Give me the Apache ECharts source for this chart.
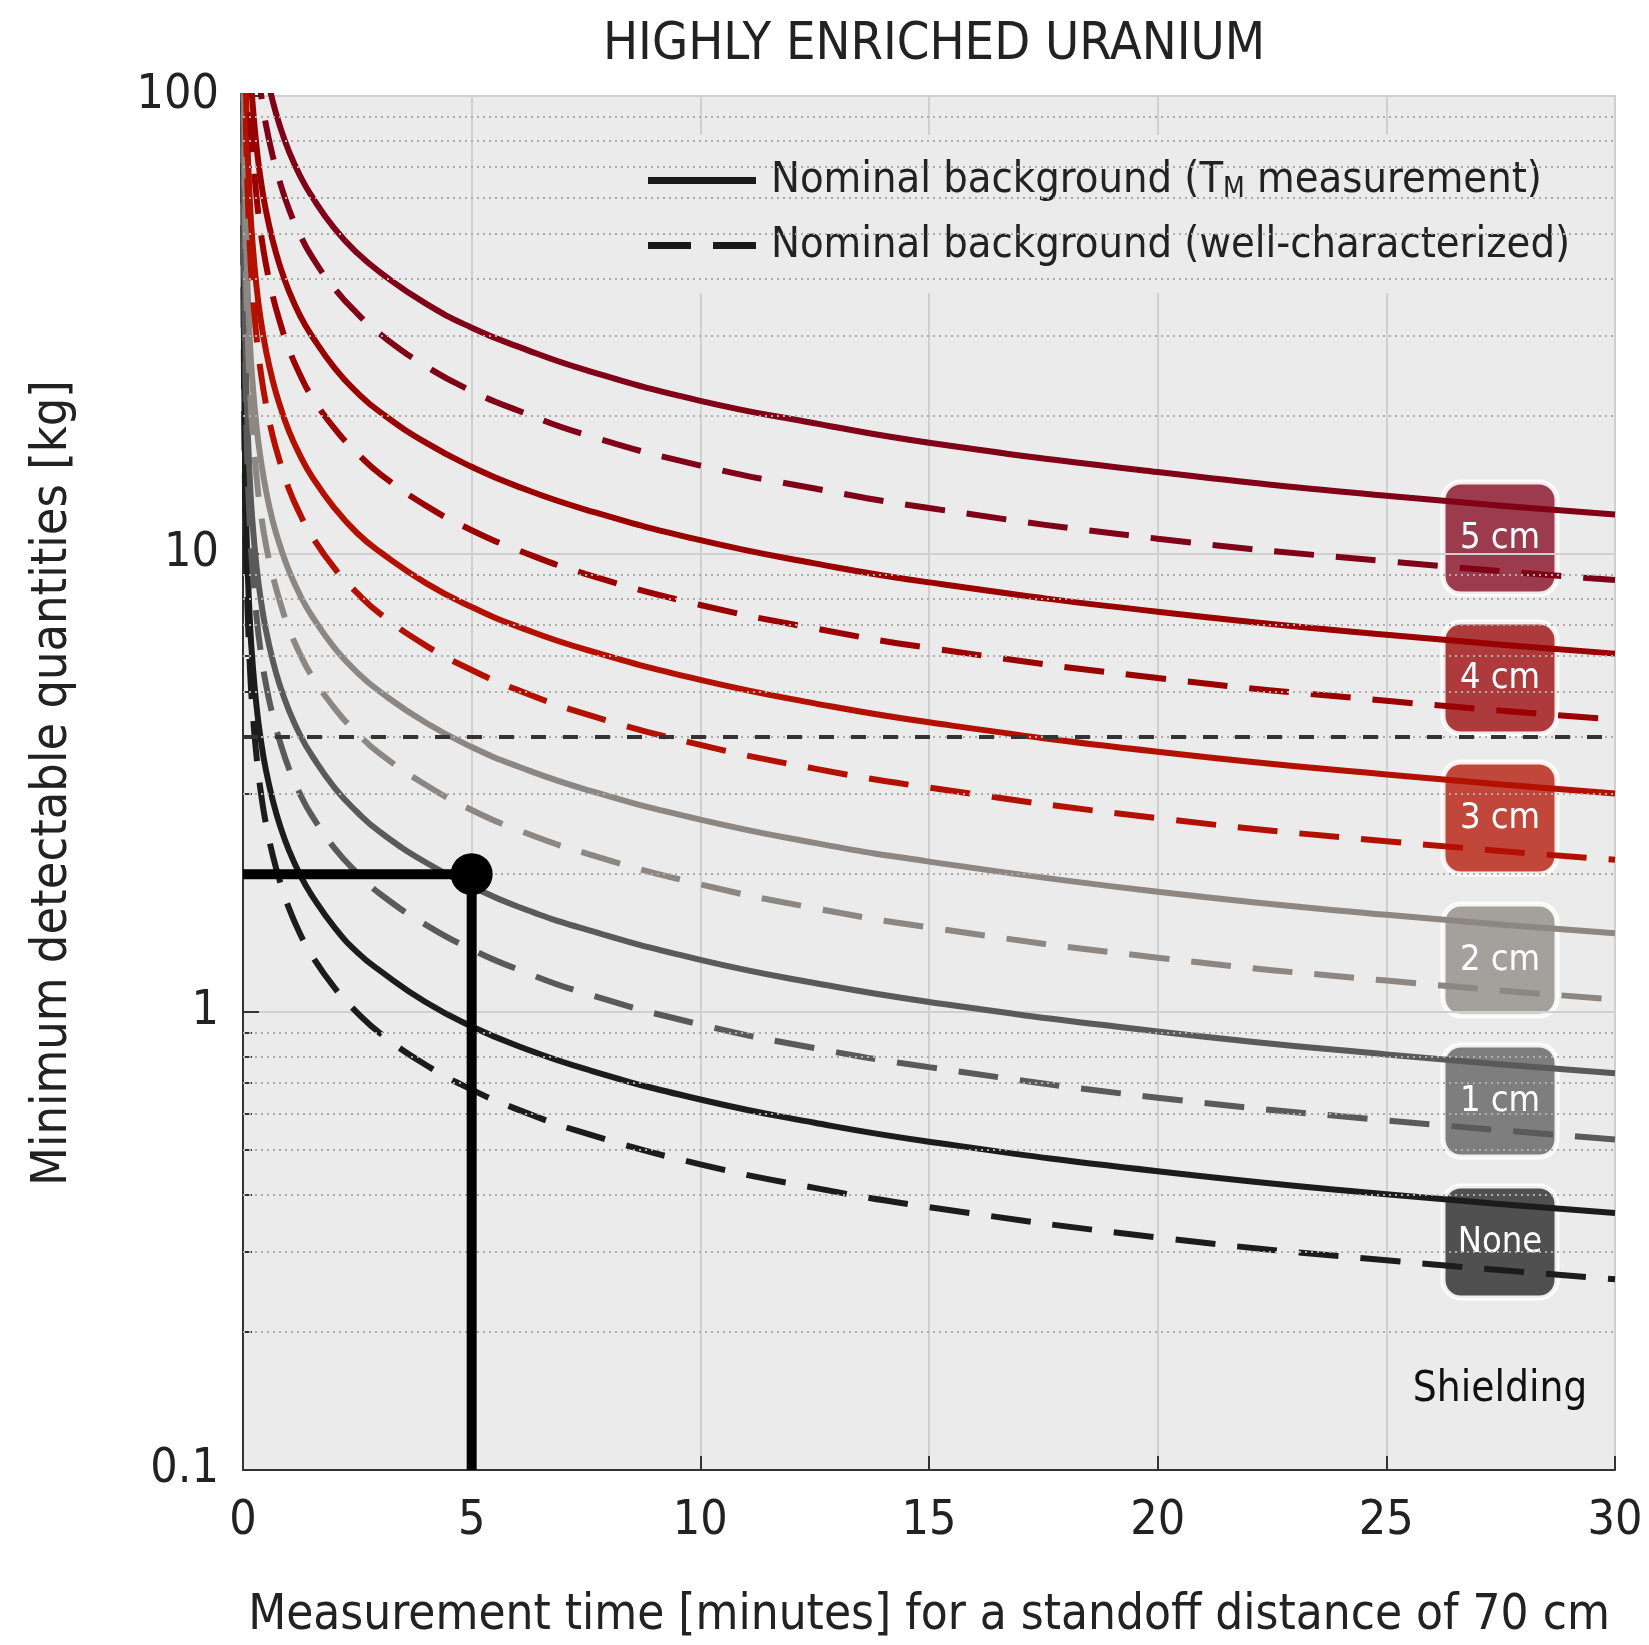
<!DOCTYPE html>
<html><head><meta charset="utf-8">
<script src="https://cdn.jsdelivr.net/npm/echarts@6/dist/echarts.min.js"></script>
<style>html,body{margin:0;padding:0;background:#fff}#c{width:1649px;height:1645px}</style>
</head><body><div id="c"></div>
<script>
// ---- data ----
const TIME = [0.003, 0.005, 0.007, 0.01, 0.015, 0.02, 0.03, 0.04, 0.055, 0.07, 0.1, 0.15, 0.2, 0.3, 0.4, 0.5, 0.65, 0.8, 1, 1.25, 1.5, 2, 2.5, 3, 4, 5, 6, 7.5, 10, 12.5, 15, 20, 25, 30];
const NONE_SOLID = [143, 92.2, 69.4, 51.8, 37.4, 29.9, 22.0, 17.8, 14.1, 11.9, 9.36, 7.16, 5.95, 4.61, 3.87, 3.38, 2.90, 2.57, 2.26, 1.99, 1.80, 1.53, 1.35, 1.23, 1.05, 0.93, 0.844, 0.75, 0.644, 0.573, 0.521, 0.449, 0.40, 0.364];
const NONE_DASHED = [133, 84.2, 62.7, 46.1, 32.8, 25.9, 18.7, 15.0, 11.7, 9.80, 7.57, 5.69, 4.68, 3.58, 2.97, 2.58, 2.20, 1.94, 1.69, 1.48, 1.33, 1.13, 0.996, 0.898, 0.766, 0.677, 0.613, 0.543, 0.465, 0.413, 0.375, 0.322, 0.287, 0.261];
const CM1_SOLID = [null, 186, 140, 104.5, 75.5, 60.4, 44.4, 35.9, 28.6, 24.1, 18.9, 14.5, 12.0, 9.31, 7.82, 6.83, 5.86, 5.19, 4.57, 4.02, 3.64, 3.09, 2.73, 2.47, 2.12, 1.88, 1.70, 1.515, 1.30, 1.157, 1.052, 0.907, 0.808, 0.735];
const CM1_DASHED = [null, 170, 126.6, 93.1, 66.3, 52.3, 37.8, 30.2, 23.7, 19.8, 15.3, 11.5, 9.45, 7.23, 6.00, 5.21, 4.44, 3.92, 3.41, 2.99, 2.69, 2.28, 2.01, 1.81, 1.55, 1.37, 1.24, 1.097, 0.939, 0.834, 0.758, 0.650, 0.580, 0.527];
const CM2_SOLID = [null, null, null, null, null, 121.9, 89.6, 72.5, 57.7, 48.7, 38.2, 29.2, 24.3, 18.8, 15.8, 13.8, 11.8, 10.5, 9.22, 8.12, 7.34, 6.24, 5.51, 5.00, 4.28, 3.79, 3.44, 3.06, 2.63, 2.34, 2.13, 1.83, 1.63, 1.485];
const CM2_DASHED = [null, null, null, null, null, 105.6, 76.3, 61.0, 47.9, 40.0, 30.9, 23.2, 19.1, 14.6, 12.1, 10.5, 8.98, 7.92, 6.90, 6.04, 5.43, 4.61, 4.06, 3.66, 3.13, 2.76, 2.50, 2.22, 1.90, 1.685, 1.53, 1.314, 1.171, 1.065];
const CM3_SOLID = [null, null, null, null, null, null, null, null, 116.5, 98.4, 77.1, 59.0, 49.0, 38.0, 31.9, 27.9, 23.9, 21.2, 18.6, 16.4, 14.8, 12.6, 11.1, 10.1, 8.64, 7.66, 6.95, 6.18, 5.31, 4.72, 4.29, 3.70, 3.30, 3.00];
const CM3_DASHED = [null, null, null, null, null, null, null, 123.2, 96.7, 80.8, 62.4, 46.9, 38.6, 29.5, 24.5, 21.3, 18.1, 16.0, 13.9, 12.2, 10.96, 9.31, 8.21, 7.40, 6.31, 5.58, 5.05, 4.47, 3.83, 3.40, 3.09, 2.65, 2.36, 2.15];
const CM4_SOLID = [null, null, null, null, null, null, null, null, null, null, null, 119.2, 99.1, 76.8, 64.4, 56.3, 48.3, 42.8, 37.6, 33.1, 30.0, 25.5, 22.5, 20.4, 17.5, 15.5, 14.05, 12.49, 10.72, 9.54, 8.67, 7.48, 6.66, 6.06];
const CM4_DASHED = [null, null, null, null, null, null, null, null, null, null, 126.0, 94.7, 77.9, 59.6, 49.5, 43.0, 36.6, 32.3, 28.1, 24.6, 22.1, 18.8, 16.6, 14.95, 12.75, 11.27, 10.21, 9.04, 7.74, 6.88, 6.24, 5.36, 4.78, 4.35];
const CM5_SOLID = [null, null, null, null, null, null, null, null, null, null, null, null, null, null, null, 113.6, 97.4, 86.4, 75.9, 66.9, 60.5, 51.4, 45.4, 41.2, 35.2, 31.2, 28.4, 25.2, 21.6, 19.3, 17.5, 15.1, 13.4, 12.2];
const CM5_DASHED = [null, null, null, null, null, null, null, null, null, null, null, null, null, 120.3, 99.8, 86.7, 73.9, 65.2, 56.8, 49.7, 44.7, 38.0, 33.5, 30.2, 25.7, 22.7, 20.6, 18.2, 15.6, 13.9, 12.6, 10.8, 9.64, 8.77];

const SHIELD_LABELS = ['5 cm', '4 cm', '3 cm', '2 cm', '1 cm', 'None'];
const X_TICKS = [0, 5, 10, 15, 20, 25, 30];
const Y_MINOR = [0.2, 0.3, 0.4, 0.5, 0.6, 0.7, 0.8, 0.9, 2, 3, 4, 5, 6, 7, 8, 9, 20, 30, 40, 50, 60, 70, 80, 90];
const REF_LEVEL = 4;
const MARK_TIME = 5;
const MARK_MDQ = 2;
const LEGEND_SOLID = 'Nominal background (T{sub|M} measurement)';
const LEGEND_DASHED = 'Nominal background (well-characterized)';

// ---- styling ----
const FONT = "'DejaVu Sans Condensed', 'Liberation Sans Narrow', 'Roboto', sans-serif";
const COLORS = ['#800018', '#9a0000', '#b41000', '#8c8782', '#5a5a5a', '#1c1c1c'];
const BOX_FILL = ['rgba(128,0,24,0.75)', 'rgba(154,0,0,0.75)', 'rgba(180,16,0,0.75)', 'rgba(140,135,130,0.75)', 'rgba(90,90,90,0.75)', 'rgba(28,28,28,0.75)'];
const BOX_CY = [538, 678, 818, 960, 1101, 1242];
const DASH = [40, 22];

const SOLIDS = [CM5_SOLID, CM4_SOLID, CM3_SOLID, CM2_SOLID, CM1_SOLID, NONE_SOLID];
const DASHEDS = [CM5_DASHED, CM4_DASHED, CM3_DASHED, CM2_DASHED, CM1_DASHED, NONE_DASHED];

function pairs(vals) {
  const out = [];
  TIME.forEach((t, i) => { if (vals[i] != null) out.push([t, vals[i]]); });
  return out;
}

const series = [];
series.push({
  type: 'line', name: 'grid', data: [], z: 1, silent: true,
  markLine: {
    silent: true, symbol: 'none', animation: false, label: {show: false},
    data: Y_MINOR.map(v => ({yAxis: v, lineStyle: {type: [2, 4], color: '#adadad', width: 2}}))
      .concat([{yAxis: REF_LEVEL, lineStyle: {type: [15, 17], color: '#333', width: 4}}])
  }
});
for (let i = SOLIDS.length - 1; i >= 0; i--) {
  series.push({
    type: 'line', name: SHIELD_LABELS[i] + ' solid', data: pairs(SOLIDS[i]),
    showSymbol: false, symbol: 'none', smooth: 0.5, clip: true, z: 3,
    lineStyle: {color: COLORS[i], width: 6}, itemStyle: {color: COLORS[i]}
  });
  series.push({
    type: 'line', name: SHIELD_LABELS[i] + ' dashed', data: pairs(DASHEDS[i]),
    showSymbol: false, symbol: 'none', smooth: 0.5, clip: true, z: 3,
    lineStyle: {color: COLORS[i], width: 6, type: DASH}, itemStyle: {color: COLORS[i]}
  });
}
series.push({type: 'line', name: 'solid', data: [], symbol: 'none', itemStyle: {color: '#1a1a1a'}});
series.push({type: 'line', name: 'dashed', data: [], symbol: 'none', itemStyle: {color: '#1a1a1a'}});
series.push({
  type: 'line', name: 'marker', data: [[0, MARK_MDQ], [MARK_TIME, MARK_MDQ], [MARK_TIME, 0.1]],
  symbol: 'none', z: 10, clip: false, lineStyle: {color: '#000', width: 10}, itemStyle: {color: '#000'}
});
series.push({
  type: 'scatter', name: 'point', data: [[MARK_TIME, MARK_MDQ]], symbolSize: 42, z: 11,
  itemStyle: {color: '#000', opacity: 1}
});

const graphics = [];
SHIELD_LABELS.forEach((lab, i) => {
  graphics.push({
    type: 'group', x: 1443, y: BOX_CY[i] - 56, z: 100,
    children: [
      {type: 'rect', shape: {x: 0, y: 0, width: 114, height: 112, r: 18},
       style: {fill: BOX_FILL[i], stroke: 'rgba(255,255,255,0.9)', lineWidth: 5}},
      {type: 'text', x: 57, y: 57,
       style: {text: lab, fill: '#fff', font: '36px ' + FONT, textAlign: 'center', textVerticalAlign: 'middle'}}
    ]
  });
});
graphics.push({type: 'text', x: 1500, y: 1390, z: 100,
  style: {text: 'Shielding', fill: '#111', font: '42px ' + FONT, textAlign: 'center', textVerticalAlign: 'middle'}});

const chart = echarts.init(document.getElementById('c'), null, {renderer: 'canvas'});
chart.setOption({
  animation: false,
  backgroundColor: '#fff',
  textStyle: {fontFamily: FONT},
  title: {text: 'HIGHLY ENRICHED URANIUM', left: 929, textAlign: 'center', top: 14,
    textStyle: {fontFamily: FONT, fontSize: 52, fontWeight: 'normal', color: '#222'}},
  grid: {left: 243, right: 34, top: 96, bottom: 175, show: true, backgroundColor: '#ebebeb',
    borderColor: '#d4d4d4', borderWidth: 2, containLabel: false, outerBoundsMode: 'none'},
  legend: {
    data: [
      {name: 'solid', icon: 'path://M0,0 H108 V7 H0 Z'},
      {name: 'dashed', icon: 'path://M0,0 H43 V7 H0 Z M65,0 H108 V7 H65 Z'}
    ],
    orient: 'vertical', left: 620, top: 135,
    padding: [22, 22, 24, 28], itemGap: 18, itemWidth: 108, itemHeight: 7,
    backgroundColor: '#ebebeb', selectedMode: false, z: 5,
    itemStyle: {color: '#1a1a1a'},
    formatter: n => n === 'solid' ? LEGEND_SOLID : LEGEND_DASHED,
    textStyle: {fontFamily: FONT, fontSize: 43, color: '#222', lineHeight: 47, padding: [0, 0, 0, 10],
      rich: {sub: {fontFamily: FONT, fontSize: 28, color: '#222', verticalAlign: 'bottom', lineHeight: 47, padding: [16, 0, 0, 0]}}}
  },
  xAxis: {
    type: 'value', min: 0, max: 30, interval: 5,
    name: 'Measurement time [minutes] for a standoff distance of 70 cm',
    nameLocation: 'middle', nameGap: 122,
    nameTextStyle: {fontFamily: FONT, fontSize: 49, color: '#222'},
    axisLine: {show: true, onZero: false, lineStyle: {color: '#333', width: 2}},
    axisTick: {show: true, inside: true, length: 14, lineStyle: {color: '#333', width: 2}},
    axisLabel: {fontFamily: FONT, fontSize: 48, color: '#222', margin: 28, customValues: X_TICKS},
    splitLine: {show: true, lineStyle: {color: '#d0d0d0', width: 2}}
  },
  yAxis: [{
    type: 'log', logBase: 10, min: 0.1, max: 100,
    name: 'Minimum detectable quantities [kg]', nameLocation: 'middle', nameGap: 165, nameRotate: 90,
    nameTextStyle: {fontFamily: FONT, fontSize: 50, color: '#222'},
    axisLine: {show: true, lineStyle: {color: '#333', width: 2}},
    axisTick: {show: true, inside: true, length: 16, lineStyle: {color: '#333', width: 2}},
    axisLabel: {fontFamily: FONT, fontSize: 48, color: '#222', margin: 24, formatter: v => String(v)},
    splitLine: {show: true, lineStyle: {color: '#d0d0d0', width: 2}}
  }, {
    type: 'log', logBase: 10, min: 0.1, max: 100, position: 'left',
    axisLine: {show: false}, axisLabel: {show: false}, splitLine: {show: false},
    axisTick: {show: true, inside: true, length: 9, customValues: Y_MINOR, lineStyle: {color: '#333', width: 2}}
  }],
  series: series,
  graphic: graphics
});
</script></body></html>
